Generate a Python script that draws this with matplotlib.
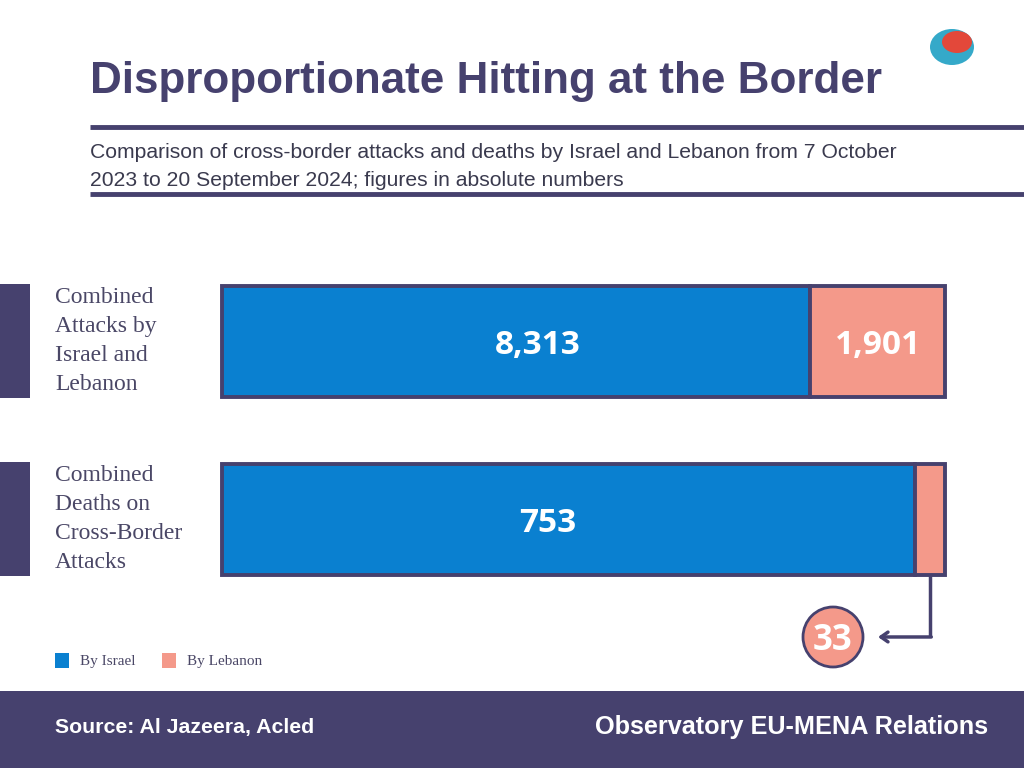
import matplotlib.pyplot as plt
from matplotlib.patches import Rectangle, Ellipse
from matplotlib.lines import Line2D
import numpy as np

categories = ["Combined\nAttacks by\nIsrael and\nLebanon",
              "Combined\nDeaths on\nCross-Border\nAttacks"]
by_israel = [8313, 753]
by_lebanon = [1901, 33]
series_names = ["By Israel", "By Lebanon"]

PURPLE = "#46416e"
BLUE = "#0a80d0"
SALMON = "#f4998a"
W, H = 1024, 768


def fx(x):
    return x / W


def fy(y):
    return 1 - y / H


fig = plt.figure(figsize=(10.24, 7.68), dpi=100)
fig.patch.set_facecolor("white")

# title block
fig.text(fx(90), fy(82), "Disproportionate Hitting at the Border", family="Liberation Sans",
         weight="bold", size=31.7, color=PURPLE, va="center", ha="left")
for yy in (127, 194):
    fig.add_artist(Line2D([fx(90), 1], [fy(yy), fy(yy)], color=PURPLE, lw=3.5,
                          solid_capstyle="butt"))
fig.text(fx(90), fy(152), "Comparison of cross-border attacks and deaths by Israel and Lebanon from 7 October",
         family="Liberation Sans", size=15.2, color="#3a3a4e", va="center")
fig.text(fx(90), fy(181), "2023 to 20 September 2024; figures in absolute numbers",
         family="Liberation Sans", size=15.2, color="#3a3a4e", va="center")

# bars
isr = np.array(by_israel, dtype=float)
leb = np.array(by_lebanon, dtype=float)
tot = isr + leb
isr_s = isr / tot
leb_s = leb / tot
ypos = np.array([1, 0])
bh = 0.624
label_x = [0.437, 0.450]  # where the big numbers sit inside the blue bars

ax = fig.add_axes([fx(222), fy(575), fx(723), (575 - 286) / H])
ax.barh(ypos, isr_s, height=bh, color=BLUE, edgecolor=PURPLE, linewidth=2.8, clip_on=False)
ax.barh(ypos, leb_s, left=isr_s, height=bh, color=SALMON, edgecolor=PURPLE, linewidth=2.8, clip_on=False)
ax.set_xlim(0, 1)
ax.set_ylim(-bh / 2, 1 + bh / 2)
ax.axis("off")

for i, y in enumerate(ypos):
    ax.text(label_x[i], y - 0.02, f"{by_israel[i]:,}", ha="center", va="center", color="white",
            family="Open Sans", weight="bold", size=24)
    if leb_s[i] > 0.1:
        ax.text(isr_s[i] + leb_s[i] / 2, y - 0.02, f"{by_lebanon[i]:,}", ha="center", va="center",
                color="white", family="Open Sans", weight="bold", size=24)

# category labels with side markers
for i, y in enumerate(ypos):
    yc = fy(341 + 178 * i)
    fig.add_artist(Rectangle((0, yc - 57 / H), fx(30), 114 / H, transform=fig.transFigure,
                             color=PURPLE, lw=0))
    fig.text(fx(55), yc, categories[i], family="Liberation Serif", size=17, color="#4a4766",
             va="center", ha="left", linespacing=1.5)

# callout for the small value
small = 1
xc = isr_s[small] + leb_s[small] / 2
y_bottom = ypos[small] - bh / 2
y_arrow = y_bottom - 62 / 178
x_tip = (878 - 222) / 723
ax.plot([xc, xc], [y_bottom, y_arrow], color=PURPLE, lw=2.5, clip_on=False,
        solid_capstyle="butt")
ax.annotate("", xy=(x_tip, y_arrow), xytext=(xc + 0.002, y_arrow),
            arrowprops=dict(arrowstyle="->,head_length=0.5,head_width=0.35", color=PURPLE, lw=2.5,
                            shrinkA=0, shrinkB=0), annotation_clip=False)
fig.add_artist(Ellipse((fx(833), fy(637)), 60 / W, 60 / H, transform=fig.transFigure,
                       facecolor=SALMON, edgecolor=PURPLE, lw=2))
fig.text(fx(833), fy(641), f"{by_lebanon[small]}", family="Open Sans", weight="bold", size=25,
         color="white", ha="center", va="center")

# legend
for j, (name, col) in enumerate(zip(series_names, [BLUE, SALMON])):
    x0 = [55, 162][j]
    fig.add_artist(Rectangle((fx(x0), fy(668)), 14 / W, 15 / H, transform=fig.transFigure,
                             color=col, lw=0))
    fig.text(fx(x0 + 25), fy(661), name, family="Liberation Serif", size=11, color="#4a4766",
             va="center")

# logo (simplified)
fig.add_artist(Ellipse((fx(952), fy(47)), 44 / W, 36 / H, transform=fig.transFigure,
                       facecolor="#35a9c9", lw=0))
fig.add_artist(Ellipse((fx(957), fy(42)), 30 / W, 22 / H, transform=fig.transFigure,
                       facecolor="#e3483a", lw=0))

# footer
fig.add_artist(Rectangle((0, 0), 1, (768 - 691) / H, transform=fig.transFigure, color=PURPLE, lw=0))
fig.text(fx(55), fy(727), "Source: Al Jazeera, Acled", family="Liberation Sans", weight="bold",
         size=15.3, color="white", va="center")
fig.text(fx(988), fy(727), "Observatory EU-MENA Relations", family="Liberation Sans",
         weight="bold", size=18.2, color="white", va="center", ha="right")

fig.savefig("out.png", dpi=100)
